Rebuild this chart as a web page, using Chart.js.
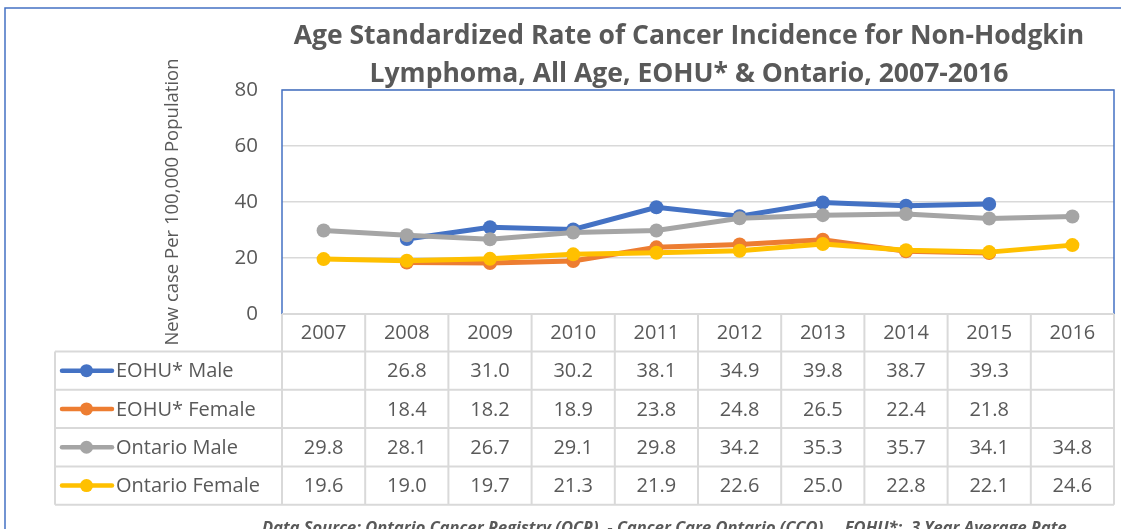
<!DOCTYPE html>
<html><head><meta charset="utf-8">
<script src="https://cdn.jsdelivr.net/npm/chart.js@4"></script>
<style>html,body{margin:0;padding:0;background:#fff;} canvas{display:block;}</style>
</head><body>
<canvas id="c" width="1121" height="529"></canvas>
<script>
const categories = ['2007','2008','2009','2010','2011','2012','2013','2014','2015','2016'];
const seriesNames = ['EOHU* Male','EOHU* Female','Ontario Male','Ontario Female'];
const eohuMale = [null, 26.8, 31.0, 30.2, 38.1, 34.9, 39.8, 38.7, 39.3, null];
const eohuFemale = [null, 18.4, 18.2, 18.9, 23.8, 24.8, 26.5, 22.4, 21.8, null];
const ontarioMale = [29.8, 28.1, 26.7, 29.1, 29.8, 34.2, 35.3, 35.7, 34.1, 34.8];
const ontarioFemale = [19.6, 19.0, 19.7, 21.3, 21.9, 22.6, 25.0, 22.8, 22.1, 24.6];
const yTickValues = [0, 20, 40, 60, 80];
const titleLines = ['Age Standardized Rate of Cancer Incidence for Non-Hodgkin', 'Lymphoma, All Age, EOHU* & Ontario, 2007-2016'];
const yAxisTitle = 'New case Per 100,000 Population';
const footerText = 'Data Source: Ontario Cancer Registry (OCR)  - Cancer Care Ontario (CCO)     EOHU*:  3 Year Average Rate';

const series = [eohuMale, eohuFemale, ontarioMale, ontarioFemale];
const colors = ['#4472C4', '#ED7D31', '#A5A5A5', '#FFC000'];
const TEXT = '#595959';
const GRID = '#D9D9D9';
const FAMILY = '"Open Sans", sans-serif';

function line(ctx, x1, y1, x2, y2) { ctx.beginPath(); ctx.moveTo(x1, y1); ctx.lineTo(x2, y2); ctx.stroke(); }

const extras = {
  id: 'extras',
  afterDraw(chart) {
    const ctx = chart.ctx, ca = chart.chartArea, xs = chart.scales.x;
    ctx.save();
    // outer frame
    ctx.strokeStyle = '#4472C4'; ctx.lineWidth = 1.5;
    ctx.strokeRect(5, 8, 1200, 700);
    // plot border (left, top, right)
    ctx.beginPath();
    ctx.moveTo(ca.left, ca.bottom); ctx.lineTo(ca.left, ca.top); ctx.lineTo(ca.right, ca.top); ctx.lineTo(ca.right, ca.bottom);
    ctx.stroke();

    // title
    ctx.fillStyle = TEXT; ctx.textAlign = 'center'; ctx.textBaseline = 'alphabetic';
    ctx.font = 'bold 26.5px ' + FAMILY;
    ctx.fillText(titleLines[0], 689, 44);
    ctx.fillText(titleLines[1], 689, 82);

    // data table
    const n = categories.length;
    const centers = categories.map((_, i) => xs.getPixelForValue(i));
    const bounds = [ca.left];
    for (let i = 0; i < n - 1; i++) bounds.push((centers[i] + centers[i + 1]) / 2);
    bounds.push(ca.right);
    const top = ca.bottom, headH = 37.5, rowH = 38.3, legLeft = 55;
    const bottom = top + headH + rowH * series.length;
    ctx.strokeStyle = GRID; ctx.lineWidth = 2;
    line(ctx, ca.left, top, ca.right, top);
    for (let r = 0; r <= series.length; r++) {
      const y = top + headH + r * rowH;
      line(ctx, legLeft, y, ca.right, y);
    }
    bounds.forEach(x => line(ctx, x, top, x, bottom));
    line(ctx, legLeft, top + headH, legLeft, bottom);

    ctx.fillStyle = TEXT; ctx.font = '20px ' + FAMILY; ctx.textBaseline = 'middle'; ctx.textAlign = 'center';
    categories.forEach((c, i) => ctx.fillText(c, centers[i], top + headH / 2 + 1));
    series.forEach((d, r) => {
      const cy = top + headH + r * rowH + rowH / 2 + 1;
      d.forEach((v, i) => { if (v !== null) ctx.fillText(v.toFixed(1), centers[i], cy); });
      // legend key
      ctx.strokeStyle = colors[r]; ctx.lineWidth = 4.5; ctx.lineCap = 'round';
      line(ctx, 62, cy - 1, 112, cy - 1);
      ctx.fillStyle = colors[r];
      ctx.beginPath(); ctx.arc(86.5, cy - 1, 6.5, 0, Math.PI * 2); ctx.fill();
      ctx.fillStyle = TEXT; ctx.textAlign = 'left';
      ctx.fillText(seriesNames[r], 116, cy);
      ctx.textAlign = 'center';
    });

    // footer
    ctx.font = 'italic bold 16.5px ' + FAMILY; ctx.textAlign = 'left'; ctx.textBaseline = 'alphabetic';
    ctx.fillText(footerText, 262, 533);
    ctx.restore();
  }
};

new Chart(document.getElementById('c'), {
  type: 'line',
  data: {
    labels: categories,
    datasets: series.map((d, i) => ({
      label: seriesNames[i], data: d,
      borderColor: colors[i], backgroundColor: colors[i],
      borderWidth: 5, pointRadius: 7, pointBorderWidth: 0, pointHoverRadius: 7,
      order: series.length - i, tension: 0, spanGaps: false
    }))
  },
  options: {
    responsive: false, animation: false, events: [],
    layout: { padding: { left: 158, top: 90, right: 4, bottom: 215 } },
    plugins: { legend: { display: false }, title: { display: false }, tooltip: { enabled: false } },
    scales: {
      x: { display: false, offset: true },
      y: {
        min: 0, max: 80,
        afterBuildTicks(s) { s.ticks = yTickValues.map(v => ({ value: v })); },
        ticks: { color: TEXT, font: { family: FAMILY, size: 20.5 }, padding: 24 },
        grid: { color: GRID, lineWidth: 1.5, drawTicks: false },
        border: { display: false },
        title: { display: true, text: yAxisTitle, color: TEXT, font: { family: FAMILY, size: 18.5 }, padding: { top: 4, bottom: 4, y: 0 } },
        afterFit(s) { s.width = 124; }
      }
    }
  },
  plugins: [extras]
});
</script>
</body></html>
